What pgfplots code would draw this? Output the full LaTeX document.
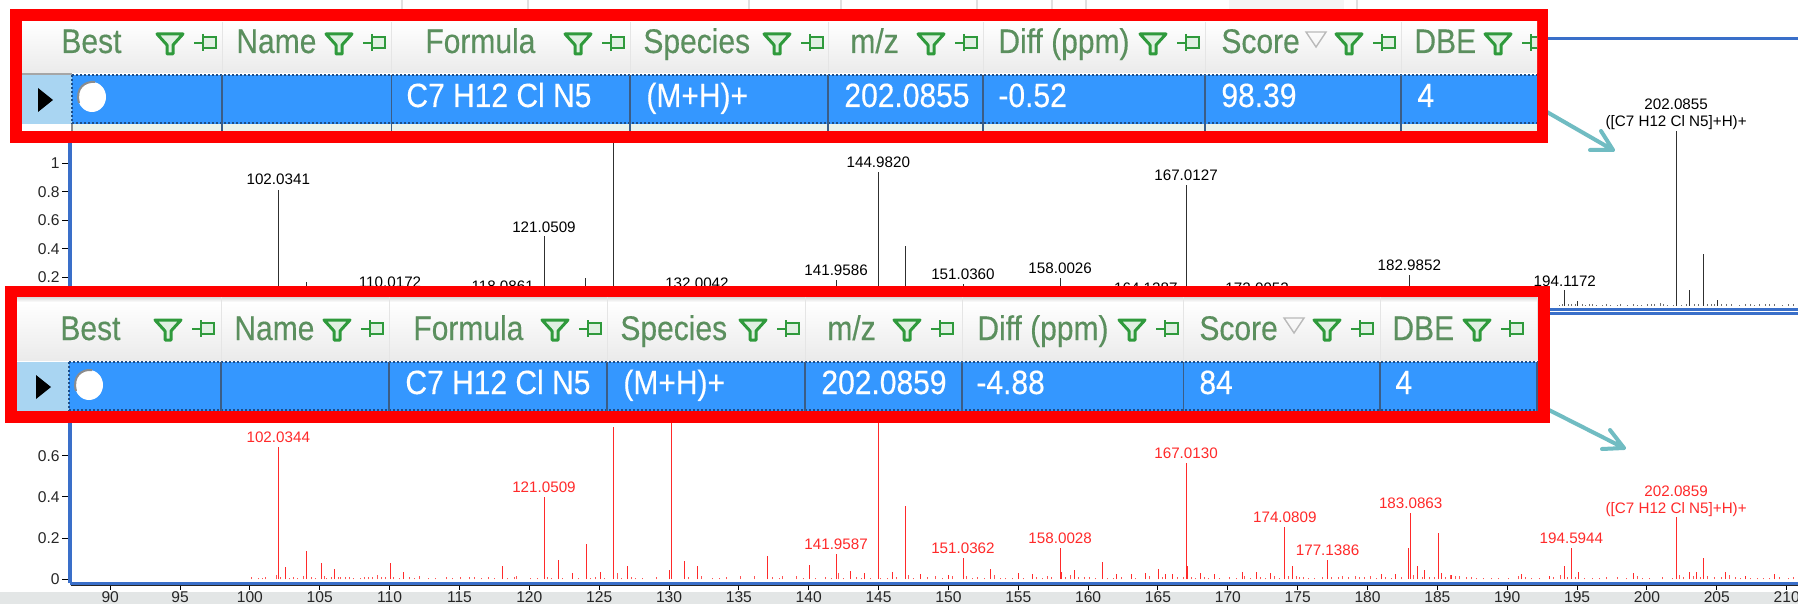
\documentclass[border=0pt]{standalone}
\usepackage{fontspec}
\setmainfont{Liberation Sans}
\newfontfamily\hdfam[FakeBold=0.35]{Liberation Sans}
\usepackage{pgfplots}
\pgfplotsset{compat=1.18}

\definecolor{axblue}{HTML}{3A6FC9}
\definecolor{rowblue}{HTML}{3497FF}
\definecolor{rowedge}{HTML}{1D4E89}
\definecolor{hdgreen}{HTML}{5B8F5E}
\definecolor{icongreen}{HTML}{2F9A3C}
\definecolor{selblue}{HTML}{A9D5F2}
\definecolor{arrowteal}{HTML}{70BCC2}
\definecolor{specred}{HTML}{FF2A2A}
\definecolor{specblack}{HTML}{303030}
\definecolor{bandgray}{HTML}{E3E6E6}

% one pixel of the reference is 0.5pt
\newcommand\hdfont{\fontsize{15pt}{16pt}\selectfont}
\newcommand\lblfont{\fontsize{7.6pt}{8.6pt}\selectfont}

% header text, cell text: x, baseline y, text (the screenshot text is a bit taller than wide)
\newcommand\hd[3]{\node[anchor=base west,inner sep=0pt,text=hdgreen,font=\hdfam\hdfont] at (#1,#2) {\scalebox{1}[1.14]{#3}};}
\newcommand\cell[3]{\node[anchor=base west,inner sep=0pt,text=white,font=\hdfam\hdfont] at (#1,#2) {\scalebox{1}[1.12]{#3}};}
% filter and pin icons: x, y of the centre
\newcommand\funnel[2]{\draw[shift={(#1,#2)},icongreen,line width=1.5pt,line join=round,fill=icongreen!15]
  (-13,-9) -- (13,-9) -- (3,2) -- (3,11) -- (-3,11) -- (-3,2) -- cycle;}
\newcommand\pin[2]{\draw[shift={(#1,#2)},icongreen,line width=1.3pt,fill=icongreen!15]
  (-2,-6) rectangle (11,5) (-11,0) -- (-2,0) (-2,-9) -- (-2,8);}
\newcommand\filt[2]{\funnel{#1}{#2}\pin{#1+35}{#2}}
\newcommand\sorted[2]{\draw[gray!55,line width=.7pt] (#1-10,#2-7) -- (#1+10,#2-7) -- (#1,#2+8) -- cycle;}
% the white circle of the Best column, with a broken grey ring
\newcommand\bestdot[2]{\fill[white] (#1,#2) ellipse (14 and 15);
  \draw[black!45,line width=1pt] (#1-13,#2+6) .. controls (#1-17,#2-9) and (#1-7,#2-16) .. (#1+3,#2-15);}

\tikzset{lbl/.style={anchor=base,inner sep=0pt,yshift=2.2pt,font=\lblfont,align=center}}
\pgfplotsset{
  specaxis/.style={
    scale only axis, width=872.25pt, height=135pt,
    xmin=87.158, xmax=212.03,
    separate axis lines,
    x axis line style={axblue,line width=1.5pt},
    y axis line style={axblue,line width=2pt},
    xtick=\empty, ytick pos=left,
    tick align=outside, major tick length=4.25pt,
    tick style={black,line width=.5pt},
    ytick={0,0.2,0.4,0.6,0.8,1,1.2,1.4,1.6,1.8},
    scaled ticks=false,
    yticklabel style={inner sep=1pt,text=black!85,font=\fontsize{7.8pt}{9pt}\selectfont,
      /pgf/number format/assume math mode=true},
  },
}

\begin{document}
\begin{tikzpicture}
\path[use as bounding box,clip] (0,0) rectangle (899pt,-302pt);
\fill[white] (0,0) rectangle (899pt,-302pt);

\begin{scope}[x=.5pt,y=-.5pt]
  \fill[bandgray] (0,592) rectangle (1798,604);
  % faint remains of the screen above the top table
  \fill[black!4] (1229,0) rectangle (1344,9);
  \foreach \xx in {402,528,749,841,977,1052,1086,1357}
    \draw[black!12,line width=.6pt] (\xx,0) -- (\xx,9);
\end{scope}

% upper spectrum
\begin{axis}[specaxis,at={(35.25pt,-154.5pt)},anchor=south west,ymin=-0.0225,ymax=1.8736]
\addplot[ycomb,specblack,line width=.45pt,no markers] coordinates {
  (102.03,0.81)(104.05,0.164)(110.02,0.097)(118.09,0.069)(121.05,0.487)(124.05,0.194)
  (126.01,1.55)(132.00,0.09)(141.96,0.183)(144.98,0.937)(146.94,0.417)(151.04,0.155)
  (158.00,0.194)(164.13,0.057)(167.01,0.85)(172.10,0.055)(179.97,0.027)(182.99,0.215)
  (194.12,0.108)(195.02,0.035)(202.09,1.23)(203.05,0.108)(204.02,0.363)(205.02,0.042)
};
\addplot[ycomb,specblack!70,line width=.4pt,no markers] coordinates {
  (193.75,0.008)(193.95,0.012)(194.35,0.014)(194.6,0.012)(194.85,0.014)(195.35,0.01)
  (195.6,0.008)(195.9,0.012)(196.1,0.014)(196.35,0.008)(196.8,0.006)(197.1,0.012)
  (197.35,0.008)(197.9,0.008)(198.1,0.01)(198.6,0.006)(199.05,0.014)(199.3,0.008)
  (199.6,0.008)(200.05,0.012)(200.3,0.01)(200.55,0.014)(200.95,0.02)(201.2,0.012)
  (201.45,0.008)(201.9,0.006)(202.5,0.006)(202.8,0.012)(203.4,0.012)(203.7,0.014)
  (204.3,0.016)(204.6,0.012)(204.85,0.014)(205.3,0.01)(205.7,0.012)(206.05,0.01)
  (206.6,0.006)(207.05,0.01)(207.4,0.012)(207.7,0.008)(208.05,0.01)(208.5,0.012)
  (208.8,0.01)(209.1,0.012)(209.7,0.008)(210.1,0.01)(210.5,0.012)
};
\node[lbl,yshift=1pt] at (axis cs:102.03,0.81) {102.0341};
\node[lbl] at (axis cs:110.03,0.097) {110.0172};
\node[lbl] at (axis cs:118.09,0.069) {118.0861};
\node[lbl] at (axis cs:121.05,0.487) {121.0509};
\node[lbl] at (axis cs:132.00,0.09) {132.0042};
\node[lbl] at (axis cs:141.96,0.183) {141.9586};
\node[lbl] at (axis cs:144.98,0.937) {144.9820};
\node[lbl] at (axis cs:151.04,0.155) {151.0360};
\node[lbl] at (axis cs:158.00,0.194) {158.0026};
\node[lbl] at (axis cs:164.13,0.057) {164.1287};
\node[lbl] at (axis cs:167.01,0.85) {167.0127};
\node[lbl] at (axis cs:172.10,0.055) {172.0952};
\node[lbl] at (axis cs:179.97,0.027) {179.9838};
\node[lbl] at (axis cs:182.99,0.215) {182.9852};
\node[lbl] at (axis cs:194.12,0.108) {194.1172};
\node[lbl,anchor=south,yshift=-1.9pt] at (axis cs:202.09,1.23) {202.0855\\([C7 H12 Cl N5]+H)+};
\end{axis}

% lower spectrum
\begin{axis}[specaxis,at={(35.25pt,-291.5pt)},anchor=south west,ymin=-0.018,ymax=1.2927]
\addplot[ycomb,specred,line width=.45pt,no markers] coordinates {
  (102.03,0.644)(102.52,0.058)(104.03,0.138)(105.1,0.078)(106.02,0.05)(110.03,0.078)
  (111.02,0.037)(118.06,0.065)(121.05,0.401)(122.1,0.094)(123.1,0.032)(124.07,0.172)
  (125.07,0.037)(126.01,0.741)(127.05,0.065)(130.05,0.045)(130.2,1.05)(131.1,0.091)
  (132.05,0.065)(137.05,0.113)(140.05,0.07)(141.96,0.123)(143.02,0.042)(144.02,0.03)
  (144.98,1.0)(146.02,0.034)(146.94,0.356)(148.02,0.026)(150.02,0.02)(151.04,0.105)
  (153.02,0.048)(155.02,0.03)(156.02,0.024)(158.00,0.15)(158.12,0.034)(159.02,0.045)
  (161.05,0.084)(162.02,0.024)(163.08,0.024)(164.08,0.03)(165.02,0.048)(165.5,0.024)
  (166.02,0.024)(167.01,0.563)(167.12,0.065)(168.02,0.03)(169.02,0.024)(171.05,0.037)
  (172.03,0.037)(173.02,0.03)(174.08,0.252)(174.62,0.065)(177.14,0.092)(181.02,0.024)
  (182.02,0.024)(182.95,0.154)(183.09,0.32)(183.6,0.065)(184.1,0.045)(185.05,0.227)
  (185.3,0.03)(186.02,0.02)(191.02,0.024)(193.02,0.016)(194.1,0.065)(194.59,0.154)
  (195.1,0.037)(199.02,0.03)(202.09,0.30)(203.05,0.037)(203.55,0.037)(204.02,0.105)
  (205.6,0.037)(207.02,0.016)(209.1,0.024)
};
\addplot[ycomb,specred!80,line width=.4pt,no markers] coordinates {
  (100.1,0.012)(100.6,0.006)(100.9,0.007)(101.1,0.01)(101.9,0.022)(102.2,0.012)(102.8,0.008)
  (103.1,0.009)(103.4,0.006)(103.8,0.014)(104.4,0.01)(104.7,0.006)(105.3,0.014)(105.5,0.008)
  (105.8,0.01)(106.3,0.012)(106.5,0.01)(106.8,0.012)(107.1,0.012)(107.4,0.008)(107.9,0.006)
  (108.2,0.01)(108.5,0.012)(108.8,0.01)(109.1,0.02)(109.4,0.012)(109.7,0.01)(110.3,0.012)
  (110.7,0.008)(111.4,0.012)(111.8,0.006)(112.1,0.016)(112.8,0.008)(113.3,0.006)(114.1,0.012)
  (114.5,0.006)(115.1,0.01)(115.7,0.012)(116.1,0.012)(116.6,0.008)(117.1,0.012)(117.5,0.008)
  (118.4,0.008)(118.9,0.01)(119.1,0.014)(120.1,0.008)(120.6,0.008)(121.3,0.012)(121.6,0.008)
  (122.4,0.008)(123.5,0.006)(124.4,0.008)(124.7,0.01)(125.4,0.006)(126.3,0.03)(126.6,0.008)
  (127.3,0.01)(127.6,0.008)(128.1,0.008)(129.1,0.01)(131.4,0.012)(132.3,0.014)(133.1,0.008)
  (133.6,0.008)(134.1,0.012)(135.1,0.014)(136.1,0.016)(137.4,0.01)(137.9,0.008)(138.1,0.014)
  (139.1,0.018)(139.6,0.008)(140.5,0.008)(141.2,0.01)(141.6,0.008)(142.1,0.03)(142.5,0.008)
  (143.4,0.012)(143.8,0.008)(144.4,0.008)(145.1,0.008)(145.6,0.006)(146.3,0.012)(147.1,0.02)
  (147.5,0.008)(148.5,0.012)(149.1,0.016)(149.6,0.008)(150.3,0.014)(151.3,0.016)(151.7,0.008)
  (152.1,0.012)(152.6,0.008)(153.3,0.02)(153.7,0.008)(154.1,0.008)(154.6,0.006)(155.4,0.008)
  (156.3,0.012)(156.7,0.006)(157.1,0.016)(157.4,0.012)(158.4,0.012)(158.7,0.02)(159.3,0.012)
  (159.7,0.012)(160.1,0.012)(160.5,0.006)(161.4,0.008)(161.8,0.008)(162.4,0.01)(163.4,0.006)
  (164.4,0.014)(165.3,0.012)(166.4,0.012)(166.8,0.01)(167.4,0.012)(167.7,0.008)(168.3,0.012)
  (168.6,0.008)(169.4,0.008)(170.1,0.01)(170.6,0.006)(171.2,0.014)(171.6,0.008)(172.3,0.012)
  (172.7,0.008)(173.3,0.016)(173.7,0.008)(174.3,0.014)(174.9,0.014)(175.1,0.012)(175.4,0.01)
  (175.8,0.008)(176.2,0.006)(176.8,0.01)(177.4,0.01)(177.9,0.012)(178.2,0.016)(178.6,0.01)
  (179.1,0.016)(179.4,0.012)(179.8,0.01)(180.2,0.014)(180.6,0.008)(181.3,0.012)(181.7,0.008)
  (182.4,0.01)(183.3,0.02)(183.9,0.012)(184.4,0.012)(184.8,0.01)(185.6,0.012)(185.9,0.02)
  (186.3,0.016)(186.6,0.014)(187.1,0.012)(187.4,0.012)(187.8,0.008)(188.3,0.008)(188.9,0.006)
  (189.4,0.006)(190.1,0.008)(190.8,0.014)(191.3,0.012)(191.7,0.006)(192.3,0.006)(193.3,0.012)
  (193.8,0.02)(194.3,0.012)(194.9,0.012)(195.5,0.008)(196.1,0.006)(196.6,0.008)(197.1,0.01)
  (197.9,0.012)(198.5,0.006)(199.3,0.014)(199.7,0.008)(200.2,0.006)(201.1,0.01)(201.8,0.006)
  (202.3,0.02)(202.6,0.012)(203.3,0.014)(203.8,0.01)(204.3,0.016)(204.8,0.01)(205.3,0.012)
  (205.9,0.02)(206.3,0.012)(206.7,0.006)(207.4,0.008)(207.9,0.006)(208.3,0.008)(208.8,0.006)
  (209.5,0.012)(210.1,0.008)(210.5,0.01)
};
\begin{scope}[every node/.style={lbl,text=specred}]
\node at (axis cs:102.03,0.644) {102.0344};
\node at (axis cs:121.05,0.401) {121.0509};
\node at (axis cs:141.96,0.123) {141.9587};
\node at (axis cs:151.04,0.105) {151.0362};
\node at (axis cs:158.00,0.15) {158.0028};
\node at (axis cs:167.01,0.563) {167.0130};
\node at (axis cs:174.08,0.252) {174.0809};
\node at (axis cs:177.14,0.092) {177.1386};
\node at (axis cs:183.09,0.32) {183.0863};
\node at (axis cs:194.59,0.154) {194.5944};
\node[anchor=south,yshift=-1.9pt] at (axis cs:202.09,0.30) {202.0859\\([C7 H12 Cl N5]+H)+};
\end{scope}
\end{axis}

% dark m/z axis under the lower spectrum
\begin{axis}[scale only axis,width=872.25pt,height=1pt,at={(35.25pt,-292.85pt)},anchor=south west,
  xmin=87.158,xmax=212.03,ymin=0,ymax=1,
  axis x line=bottom,axis y line=none,
  x axis line style={-,black!85,line width=.5pt},
  xtick={90,95,...,210},
  tick align=outside,major tick length=2pt,tick style={black,line width=.5pt},
  xticklabel style={inner sep=.4pt,yshift=-.6pt,text=black!85,font=\fontsize{7.8pt}{9pt}\selectfont,
    /pgf/number format/assume math mode=true},
]
\end{axis}

\begin{scope}[x=.5pt,y=-.5pt]
  % arrows from the tables to the peaks
  \begin{scope}[arrowteal,line width=2pt,line cap=round,line join=round]
    \draw (1540,108) -- (1613,150) (1601,131) -- (1613,150) -- (1590,150);
    \draw (1545,408) -- (1624,448) (1610,430) -- (1624,448) -- (1602,449);
  \end{scope}

  % upper table
  \fill[red] (10,9) rectangle (1548,143);
  \fill[white] (22,22) rectangle (1537,131);
  \shade[top color=white,bottom color=black!8] (22,22) rectangle (1537,73);
  \fill[green!40!black!8] (72,124) rectangle (1537,131);
  \fill[selblue] (22,75) rectangle (72,124);
  \fill[rowblue] (72,75) rectangle (1537,124);
  \draw[black!35,line width=1pt] (22,74) -- (72,74);
  \draw[rowedge,line width=1pt,densely dotted] (72,75) -- (1537,75) (72,123) -- (1537,123);
  \foreach \xx in {222,391.5,630,828,983,1205,1401} {
    \draw[black!10,line width=.5pt] (\xx,22) -- (\xx,73);
    \draw[rowedge!70!gray,line width=.9pt] (\xx,75) -- (\xx,131);
  }
  \draw[rowedge,line width=1pt,densely dotted] (72,75) -- (72,124);
  \draw[black!45,line width=.9pt] (72,124) -- (72,131);
  \fill[black] (38,88) -- (53,100) -- (38,112) -- cycle;
  \bestdot{92}{97}
  \hd{61}{53}{Best} \filt{170}{43}
  \hd{236}{53}{Name} \filt{339}{43}
  \hd{425}{53}{Formula} \filt{578}{43}
  \hd{643}{53}{Species} \filt{777}{43}
  \hd{850}{53}{m/z} \filt{931}{43}
  \hd{998}{53}{Diff (ppm)} \filt{1153}{43}
  \hd{1221}{53}{Score} \sorted{1316}{39} \filt{1349}{43}
  \hd{1414}{53}{DBE} \funnel{1498}{43}
  \begin{scope}
    \clip (1510,22) rectangle (1537,73);
    \pin{1533}{43}
  \end{scope}
  \cell{406}{107}{C7 H12 Cl N5}
  \cell{646}{107}{(M+H)+}
  \cell{844}{107}{202.0855}
  \cell{998}{107}{-0.52}
  \cell{1221}{107}{98.39}
  \cell{1417}{107}{4}

  % lower table
  \fill[red] (5,286) rectangle (1550,423);
  \fill[white] (17,297) rectangle (1537.5,411);
  \shade[top color=black!15,bottom color=white] (17,297) rectangle (1537.5,302);
  \shade[top color=white,bottom color=black!8] (17,302) rectangle (1537.5,360);
  \fill[selblue] (17,362) rectangle (69,411);
  \fill[rowblue] (69,362) rectangle (1537.5,411);
  \draw[rowedge,line width=1pt,densely dotted] (69,362) -- (1537.5,362) (69,410) -- (1537.5,410);
  \foreach \xx in {221,389,607,805,962,1183.5,1380,1537} {
    \draw[black!10,line width=.5pt] (\xx,297) -- (\xx,360);
    \draw[rowedge!70!gray,line width=.9pt] (\xx,362) -- (\xx,411);
  }
  \draw[rowedge,line width=1pt,densely dotted] (69,362) -- (69,411);
  \fill[black] (36,375) -- (51,387) -- (36,399) -- cycle;
  \bestdot{89}{385}
  \hd{60}{340}{Best} \filt{168}{329}
  \hd{234}{340}{Name} \filt{337}{329}
  \hd{413}{340}{Formula} \filt{555}{329}
  \hd{620}{340}{Species} \filt{753}{329}
  \hd{827}{340}{m/z} \filt{907}{329}
  \hd{977}{340}{Diff (ppm)} \filt{1132}{329}
  \hd{1199}{340}{Score} \sorted{1294}{325} \filt{1327}{329}
  \hd{1392}{340}{DBE} \filt{1477}{329}
  \cell{405}{394}{C7 H12 Cl N5}
  \cell{623}{394}{(M+H)+}
  \cell{821}{394}{202.0859}
  \cell{976}{394}{-4.88}
  \cell{1199}{394}{84}
  \cell{1395}{394}{4}
\end{scope}
\end{tikzpicture}
\end{document}
